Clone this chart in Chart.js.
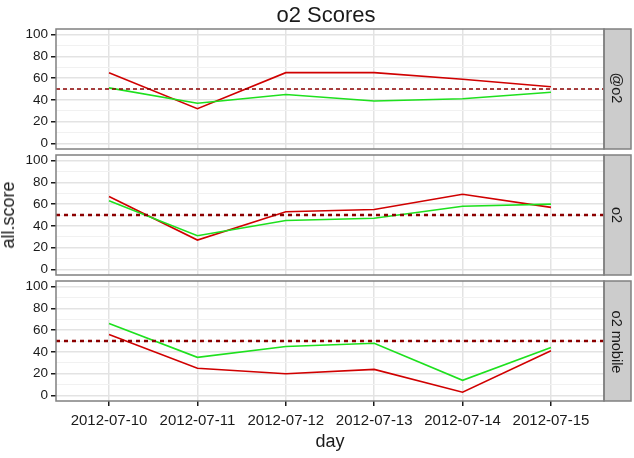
<!DOCTYPE html>
<html>
<head>
<meta charset="utf-8">
<script src="https://cdn.jsdelivr.net/npm/chart.js@4.4.0/dist/chart.umd.min.js"></script>
<style>
  body { margin: 0; background: #fff; }
  #wrap { position: relative; width: 634px; height: 458px; font-family: 'Liberation Sans', Arial, sans-serif; color: #1a1a1a; }
  #wrap canvas { position: absolute; left: 0; top: 0; }
  .txt { position: absolute; white-space: nowrap; transform: translate(-50%, -50%); line-height: 1; }
</style>
</head>
<body>
<div id="wrap">
  <canvas id="panel0" width="634" height="458"></canvas>
  <canvas id="panel1" width="634" height="458"></canvas>
  <canvas id="panel2" width="634" height="458"></canvas>
  <div class="txt" style="left:326px; top:15px; font-size:22px;">o2 Scores</div>
  <div class="txt" style="left:330px; top:441px; font-size:18px;">day</div>
  <div class="txt" style="left:8px; top:215px; font-size:18px; transform: translate(-50%, -50%) rotate(-90deg);">all.score</div>
  <div class="txt" id="strip0" style="left:617px; top:88px; font-size:14.5px; transform: translate(-50%, -50%) rotate(90deg);"></div>
  <div class="txt" id="strip1" style="left:617px; top:215px; font-size:14.5px; transform: translate(-50%, -50%) rotate(90deg);"></div>
  <div class="txt" id="strip2" style="left:617px; top:342px; font-size:14.5px; transform: translate(-50%, -50%) rotate(90deg);"></div>
</div>
<script>
// donnees
const days = ['2012-07-10', '2012-07-11', '2012-07-12', '2012-07-13', '2012-07-14', '2012-07-15']
const facets = ['@o2', 'o2', 'o2 mobile']
const redAtO2 = [65, 32, 65, 65, 59, 52]
const greenAtO2 = [51, 37, 45, 39, 41, 47]
const redO2 = [67, 27, 53, 55, 69, 57]
const greenO2 = [63, 31, 45, 47, 58, 60]
const redMobile = [56, 25, 20, 24, 3, 41]
const greenMobile = [66, 35, 45, 48, 14, 44]
const threshold = 50
const yTicks = [0, 10, 20, 30, 40, 50, 60, 70, 80, 90, 100]

const redSeries = [redAtO2, redO2, redMobile]
const greenSeries = [greenAtO2, greenO2, greenMobile]

// limites des axes (comme ggplot avec son expansion)
const xMin = -0.6, xMax = 5.6
const yMin = -5, yMax = 105

// position des panneaux en pixels
const panelTop = [29, 155, 281]
const panelHeight = 120
const plotLeft = 56, plotRight = 604, stripWidth = 27
const fontFamily = "'Liberation Sans', Arial, sans-serif"

// cadre gris + bandeau a droite
const panelFrame = {
  id: 'panelFrame',
  afterDraw(chart) {
    const { ctx, chartArea: a } = chart
    ctx.save()
    ctx.fillStyle = '#cccccc'
    ctx.fillRect(a.right, a.top, stripWidth, a.bottom - a.top)
    ctx.strokeStyle = '#808080'
    ctx.lineWidth = 1.5
    ctx.strokeRect(a.right, a.top, stripWidth, a.bottom - a.top)
    ctx.strokeRect(a.left, a.top, a.right - a.left, a.bottom - a.top)
    ctx.restore()
  }
}

function toPoints(values) {
  return values.map((v, i) => ({ x: i, y: v }))
}

facets.forEach((name, p) => {
  document.getElementById('strip' + p).textContent = name
  const last = p === facets.length - 1
  const bottomSpace = 458 - panelTop[p] - panelHeight

  new Chart(document.getElementById('panel' + p), {
    type: 'line',
    data: {
      datasets: [
        {
          data: [{ x: xMin, y: threshold }, { x: xMax, y: threshold }],
          borderColor: '#8b0000',
          borderWidth: p === 0 ? 1.4 : 2.5,
          borderDash: p === 0 ? [4, 3] : [4, 4],
          pointRadius: 0
        },
        {
          data: toPoints(greenSeries[p]),
          borderColor: '#1ee01e',
          borderWidth: 1.6,
          pointRadius: 0,
          tension: 0
        },
        {
          data: toPoints(redSeries[p]),
          borderColor: '#d00000',
          borderWidth: 1.6,
          pointRadius: 0,
          tension: 0
        }
      ]
    },
    options: {
      responsive: false,
      animation: false,
      events: [],
      layout: {
        padding: { top: panelTop[p], left: 0, right: 634 - plotRight, bottom: last ? 0 : bottomSpace }
      },
      plugins: {
        legend: { display: false },
        tooltip: { enabled: false }
      },
      scales: {
        x: {
          type: 'linear',
          min: xMin,
          max: xMax,
          afterBuildTicks: s => { s.ticks = days.map((d, i) => ({ value: i })) },
          afterFit: s => { s.height = last ? bottomSpace : 0 },
          border: { display: false },
          grid: {
            color: '#e3e3e3',
            lineWidth: 1.5,
            drawTicks: last,
            tickColor: '#1a1a1a',
            tickLength: 5
          },
          ticks: {
            display: last,
            padding: 6,
            maxRotation: 0,
            autoSkip: false,
            color: '#1a1a1a',
            font: { family: fontFamily, size: 15 },
            callback: v => days[v]
          }
        },
        y: {
          min: yMin,
          max: yMax,
          afterBuildTicks: s => { s.ticks = yTicks.map(v => ({ value: v })) },
          afterFit: s => { s.width = plotLeft },
          border: { display: false },
          grid: {
            color: c => c.tick && c.tick.value % 20 === 0 ? '#e3e3e3' : '#f1f1f1',
            lineWidth: c => c.tick && c.tick.value % 20 === 0 ? 1.5 : 1,
            tickColor: c => c.tick && c.tick.value % 20 === 0 ? '#1a1a1a' : 'rgba(0,0,0,0)',
            tickLength: 5
          },
          ticks: {
            padding: 3,
            autoSkip: false,
            color: '#1a1a1a',
            font: { family: fontFamily, size: 13.5 },
            callback: v => (v % 20 === 0 ? String(v) : '')
          }
        }
      }
    },
    plugins: [panelFrame]
  })
})
</script>
</body>
</html>
